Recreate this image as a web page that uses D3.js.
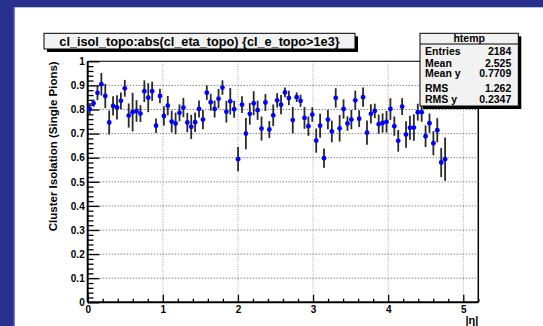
<!DOCTYPE html>
<html><head><meta charset="utf-8">
<script src="https://cdn.jsdelivr.net/npm/d3@7"></script>
<style>
html,body{margin:0;padding:0;background:#fff;}
text{font-family:"Liberation Sans",Arial,Helvetica,sans-serif;font-weight:bold;}
</style></head>
<body>
<svg id="c" width="543" height="326"></svg>
<script>
// ---- data ----
const title = "cl_isol_topo:abs(cl_eta_topo) {cl_e_topo>1e3}";
const yTitle = "Cluster Isolation (Single Pions)";
const xTitle = "|\u03b7|";
const binWidth = 0.052;   // 100 bins over [0, 5.2]
const profileMean = [
 0.802,0.826,0.869,0.905,0.856,0.746,0.815,0.809,0.836,0.888,
 0.775,0.789,0.794,0.783,0.876,0.849,0.876,0.733,0.856,0.773,
 0.816,0.750,0.742,0.786,0.808,0.746,0.728,0.747,0.802,0.758,
 0.870,0.830,0.802,0.845,0.891,0.791,0.834,0.801,0.594,0.820,
 0.700,0.782,0.826,0.797,0.721,0.829,0.717,0.776,0.838,0.820,
 0.871,0.848,0.756,0.851,0.836,0.765,0.731,0.779,0.671,0.733,
 0.598,0.758,0.709,0.848,0.722,0.802,0.742,0.758,0.838,0.762,
 0.851,0.704,0.782,0.794,0.739,0.744,0.749,0.802,0.731,0.670,
 0.812,0.696,0.724,0.725,0.789,0.789,0.689,0.743,0.660,0.714,
 0.580,0.594];
const profileErr = [
 0.025,0.015,0.030,0.047,0.050,0.050,0.040,0.050,0.035,0.035,
 0.050,0.080,0.045,0.035,0.045,0.060,0.040,0.030,0.030,0.040,
 0.040,0.045,0.045,0.035,0.040,0.040,0.050,0.040,0.035,0.040,
 0.030,0.035,0.035,0.040,0.030,0.045,0.055,0.035,0.050,0.035,
 0.065,0.045,0.050,0.040,0.050,0.035,0.035,0.045,0.030,0.040,
 0.020,0.030,0.055,0.020,0.025,0.045,0.040,0.030,0.050,0.050,
 0.040,0.040,0.045,0.040,0.055,0.040,0.030,0.040,0.040,0.035,
 0.040,0.050,0.040,0.030,0.040,0.040,0.045,0.045,0.040,0.045,
 0.035,0.055,0.050,0.055,0.035,0.040,0.045,0.040,0.050,0.050,
 0.060,0.090];
const xMajor = [0,1,2,3,4,5];
const yMajor = [0,0.1,0.2,0.3,0.4,0.5,0.6,0.7,0.8,0.9,1];
const yTickLabels = ["0","0.1","0.2","0.3","0.4","0.5","0.6","0.7","0.8","0.9","1"];
const statsName = "htemp";
const statsLabels = ["Entries","Mean","Mean y","RMS","RMS y"];
const statsValues = ["2184","2.525","0.7709","1.262","0.2347"];

// ---- layout ----
const svg = d3.select("#c");
const L = 87.7, R = 478.3, T = 61.3, B = 302.3;
const x = d3.scaleLinear().domain([0, 5.2]).range([L, R]);
const y = d3.scaleLinear().domain([0, 1]).range([B, T]);

// background
svg.append("rect").attr("width",543).attr("height",326).attr("fill","#28318e");
svg.append("rect").attr("x",14.5).attr("y",7.3).attr("width",543).attr("height",326).attr("fill","#ffffff");
svg.append("line").attr("x1",14).attr("x2",14).attr("y1",7).attr("y2",326).attr("stroke","#5a64b4").attr("stroke-width",1);

// grid
const g = svg.append("g");
g.selectAll(".hg").data(yMajor.filter(v=>v>0)).enter().append("line")
  .attr("x1",L).attr("x2",R).attr("y1",d=>y(d)).attr("y2",d=>y(d))
  .attr("stroke","#222").attr("stroke-width",0.8).attr("stroke-dasharray","1,2");
g.selectAll(".vg").data(xMajor.filter(v=>v>0)).enter().append("line")
  .attr("x1",d=>x(d)).attr("x2",d=>x(d)).attr("y1",T).attr("y2",B)
  .attr("stroke","#888").attr("stroke-width",0.8).attr("stroke-dasharray","1,1.5");

// frame
svg.append("line").attr("x1",L).attr("x2",R).attr("y1",T).attr("y2",T).attr("stroke","#333").attr("stroke-width",1.2);
svg.append("line").attr("x1",R).attr("x2",R).attr("y1",T).attr("y2",B).attr("stroke","#000").attr("stroke-width",1.5);

// y axis
const yMinor = d3.range(0,1.0001,0.02).filter(v=>Math.abs(v*10-Math.round(v*10))>1e-6);
const yAxMinor = d3.axisLeft(y).tickValues(yMinor).tickSize(-5.8).tickFormat("");
const yAx = d3.axisLeft(y).tickValues(yMajor).tickSize(-11.7).tickPadding(3)
  .tickFormat((d,i)=>yTickLabels[i]);
const gyMin = svg.append("g").attr("transform",`translate(${L},0)`).call(yAxMinor);
const gy = svg.append("g").attr("transform",`translate(${L},0)`).call(yAx);
[gy,gyMin].forEach(s=>{ s.select(".domain").remove(); s.selectAll("line").attr("stroke","#000").attr("stroke-width",1.3);});
gy.selectAll("text").attr("font-size","10px").attr("fill","#000")
  .attr("font-family","Liberation Sans, Arial, sans-serif").attr("font-weight","bold");

// x axis
const xMinor = d3.range(0,5.2001,0.2).filter(v=>Math.abs(v-Math.round(v))>1e-6);
const xAxMinor = d3.axisBottom(x).tickValues(xMinor).tickSize(-3.6).tickFormat("");
const xAx = d3.axisBottom(x).tickValues(xMajor).tickSize(-7.5).tickPadding(4).tickFormat(d3.format("d"));
const gxMin = svg.append("g").attr("transform",`translate(0,${B})`).call(xAxMinor);
const gx = svg.append("g").attr("transform",`translate(0,${B})`).call(xAx);
[gx,gxMin].forEach(s=>{ s.select(".domain").remove(); s.selectAll("line").attr("stroke","#000").attr("stroke-width",1.3);});
gx.selectAll("text").attr("font-size","10px").attr("fill","#000").attr("dy","0.72em")
  .attr("font-family","Liberation Sans, Arial, sans-serif").attr("font-weight","bold");

// axis lines
svg.append("line").attr("x1",L).attr("x2",L).attr("y1",T).attr("y2",B).attr("stroke","#000").attr("stroke-width",2);
svg.append("line").attr("x1",L).attr("x2",R).attr("y1",B).attr("y2",B).attr("stroke","#000").attr("stroke-width",2);

// axis titles
svg.append("text").attr("transform",`translate(57,${T}) rotate(-90)`).attr("text-anchor","end")
  .attr("font-size","11.5px").attr("fill","#000").text(yTitle);
svg.append("text").attr("x",R).attr("y",323.5).attr("text-anchor","end")
  .attr("font-size","11px").attr("font-weight","normal").attr("fill","#000").text(xTitle);

// data
const pts = profileMean.map((m,i)=>({x:(i+0.5)*binWidth, m, e:profileErr[i]}));
const dg = svg.append("g");
dg.selectAll(".eb").data(pts).enter().append("line")
  .attr("x1",d=>x(d.x)).attr("x2",d=>x(d.x)).attr("y1",d=>y(d.m-d.e)).attr("y2",d=>y(d.m+d.e))
  .attr("stroke","#2a2a2a").attr("stroke-width",1.8);
dg.selectAll(".pt").data(pts).enter().append("circle")
  .attr("cx",d=>x(d.x)).attr("cy",d=>y(d.m)).attr("r",2.4).attr("fill","#0000ff");

// title box
const tb = {x:44, y:33.3, w:311, h:15.7};
svg.append("rect").attr("x",tb.x+3).attr("y",tb.y+3).attr("width",tb.w).attr("height",tb.h).attr("fill","#000");
svg.append("rect").attr("x",tb.x).attr("y",tb.y).attr("width",tb.w).attr("height",tb.h).attr("fill","#f2f2f2").attr("stroke","#000").attr("stroke-width",1);
svg.append("text").attr("x",tb.x+tb.w/2).attr("y",tb.y+12.2).attr("text-anchor","middle")
  .attr("font-size","12.7px").attr("fill","#000").text(title);

// stats box
const sb = {x:420, y:33.3, w:98.3, h:72.7};
svg.append("rect").attr("x",sb.x+3).attr("y",sb.y+3).attr("width",sb.w).attr("height",sb.h).attr("fill","#000");
svg.append("rect").attr("x",sb.x).attr("y",sb.y).attr("width",sb.w).attr("height",sb.h).attr("fill","#f2f2f2").attr("stroke","#000").attr("stroke-width",1);
svg.append("line").attr("x1",sb.x).attr("x2",sb.x+sb.w).attr("y1",44).attr("y2",44).attr("stroke","#000").attr("stroke-width",1);
svg.append("text").attr("x",sb.x+sb.w/2).attr("y",41.5).attr("text-anchor","middle")
  .attr("font-size","10.5px").attr("fill","#000").text(statsName);
const rowY = [55.3,66.7,77.3,91.5,102.6];
statsLabels.forEach((lab,i)=>{
  svg.append("text").attr("x",425).attr("y",rowY[i]).attr("font-size","10.5px").attr("fill","#000").text(lab);
  svg.append("text").attr("x",511.3).attr("y",rowY[i]).attr("text-anchor","end").attr("font-size","10.5px").attr("fill","#000").text(statsValues[i]);
});
</script>
</body></html>
